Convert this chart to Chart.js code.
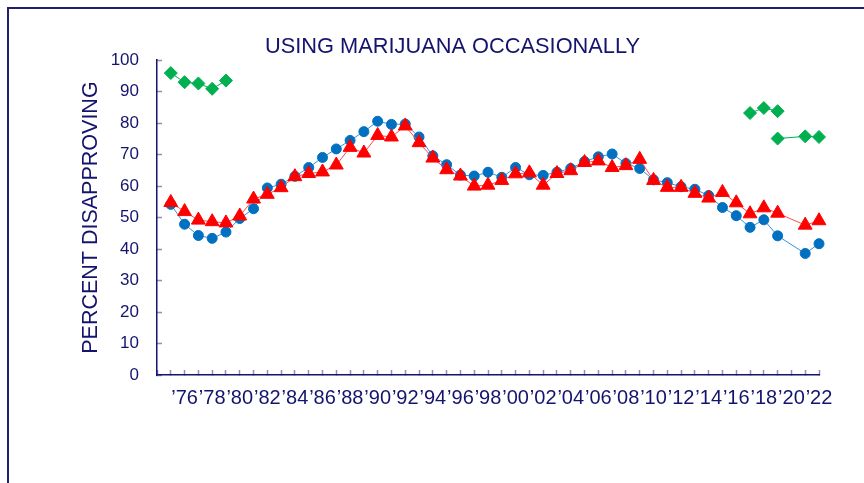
<!DOCTYPE html>
<html>
<head>
<meta charset="utf-8">
<script src="https://cdn.jsdelivr.net/npm/chart.js@4.4.1/dist/chart.umd.min.js"></script>
<style>
  html, body { margin: 0; padding: 0; background: #fff; overflow: hidden; }
  body { width: 864px; height: 483px; position: relative; }
  #frame { position: absolute; left: 7px; top: 7px; width: 1000px; height: 500px;
           border-left: 2px solid #202070; border-top: 2px solid #202070; }
  #wrap { position: absolute; left: 0; top: 0; width: 887px; height: 474px; }
</style>
</head>
<body>
<div id="frame"><div id="wrap"><canvas id="myChart"></canvas></div></div>
<script>
const years = [1975, 1976, 1977, 1978, 1979, 1980, 1981, 1982, 1983, 1984, 1985, 1986,
  1987, 1988, 1989, 1990, 1991, 1992, 1993, 1994, 1995, 1996, 1997, 1998, 1999, 2000,
  2001, 2002, 2003, 2004, 2005, 2006, 2007, 2008, 2009, 2010, 2011, 2012, 2013, 2014,
  2015, 2016, 2017, 2018, 2019, 2020, 2021, 2022];

// blue circles
const blueVals = [54.2, 47.9, 44.3, 43.4, 45.4, 49.7, 52.8, 59.4, 60.6, 63.1, 65.9, 69.1,
  71.8, 74.5, 77.3, 80.6, 79.6, 79.7, 75.6, 69.6, 66.8, 63.5, 63.2, 64.4, 62.8, 65.9,
  63.6, 63.4, 64.4, 65.6, 67.8, 69.3, 70.2, 67.2, 65.6, 62.0, 61.1, 59.8, 59.0, 57.0,
  53.2, 50.6, 46.9, 49.3, 44.2, null, 38.6, 41.7];

// red triangles
const redVals = [54.8, 51.9, 49.2, 48.7, 48.3, 50.5, 55.9, 57.4, 59.5, 63.0, 64.0, 64.5,
  66.7, 72.3, 70.5, 76.1, 75.6, 79.1, 73.8, 68.9, 65.2, 63.2, 60.0, 60.3, 61.8, 63.9,
  64.2, 60.3, 64.0, 64.9, 67.5, 68.0, 65.9, 66.5, 68.5, 61.8, 59.6, 59.6, 57.7, 56.2,
  58.0, 54.7, 51.2, 53.1, 51.4, null, 47.6, 49.0];

// green diamonds
const greenEarlyYears = [1975, 1976, 1977, 1978, 1979];
const greenEarlyVals = [95.9, 93.0, 92.6, 90.9, 93.5];
const greenMidYears = [2017, 2018, 2019];
const greenMidVals = [83.2, 84.8, 83.8];
const greenLateYears = [2019, 2021, 2022];
const greenLateVals = [75.1, 75.8, 75.6];

const labelYears = [1976, 1978, 1980, 1982, 1984, 1986, 1988, 1990, 1992, 1994, 1996, 1998,
  2000, 2002, 2004, 2006, 2008, 2010, 2012, 2014, 2016, 2018, 2020, 2022];
const labelText = ["\u201976", "\u201978", "\u201980", "\u201982", "\u201984", "\u201986",
  "\u201988", "\u201990", "\u201992", "\u201994", "\u201996", "\u201998", "\u201900",
  "\u201902", "\u201904", "\u201906", "\u201908", "\u201910", "\u201912", "\u201914",
  "\u201916", "\u201918", "\u201920", "\u201922"];

const navy = "#14146e";
const fontFamily = "'Liberation Sans', Arial, sans-serif";

const pts = (xs, ys) => xs.map((x, i) => ({ x: x, y: ys[i] }));

const greenStyle = {
  borderColor: "#00b050",
  backgroundColor: "#00b050",
  pointBorderColor: "#00b050",
  pointStyle: "rectRot",
  pointRadius: 6.5,
  borderWidth: 1,
  clip: false,
};

const config = {
  type: "line",
  data: {
    datasets: [
      { label: "green early", data: pts(greenEarlyYears, greenEarlyVals), ...greenStyle },
      { label: "green mid", data: pts(greenMidYears, greenMidVals), ...greenStyle },
      { label: "green late", data: pts(greenLateYears, greenLateVals), ...greenStyle },
      {
        label: "red",
        data: pts(years, redVals),
        borderColor: "#ff4a4a",
        backgroundColor: "#ff0000",
        pointBorderColor: "#ff0000",
        pointStyle: "triangle",
        pointRadius: 8,
        borderWidth: 1,
        spanGaps: true,
        clip: false,
      },
      {
        label: "blue",
        data: pts(years, blueVals),
        borderColor: "#3a8fdc",
        backgroundColor: "#0070c0",
        pointBorderColor: "#0070c0",
        pointStyle: "circle",
        pointRadius: 5,
        borderWidth: 1,
        spanGaps: true,
        clip: false,
      },
    ],
  },
  options: {
    responsive: true,
    maintainAspectRatio: false,
    animation: false,
    events: [],
    layout: { padding: 0 },
    elements: { line: { tension: 0 } },
    plugins: {
      legend: { display: false },
      tooltip: { enabled: false },
      title: {
        display: true,
        text: "USING MARIJUANA OCCASIONALLY",
        color: navy,
        font: { family: fontFamily, size: 21.8, weight: "normal" },
        padding: { top: 25, bottom: 0 },
      },
    },
    scales: {
      x: {
        type: "linear",
        min: 1974,
        max: 2022,
        afterFit: (s) => { s.height = 108; },
        grid: { drawOnChartArea: false, tickLength: -5, tickColor: "#8f8fbf", tickWidth: 1.5 },
        border: { color: navy, width: 1.5 },
        ticks: {
          stepSize: 1,
          autoSkip: false,
          maxRotation: 0,
          padding: 16,
          color: navy,
          font: { family: fontFamily, size: 20 },
          callback: (v) => {
            const i = labelYears.indexOf(v);
            return i >= 0 ? labelText[i] : "";
          },
        },
      },
      y: {
        min: 0,
        max: 100,
        afterFit: (s) => { s.width = 148; },
        grid: { drawOnChartArea: false, tickLength: -5, tickColor: "#8f8fbf", tickWidth: 1.5 },
        border: { color: navy, width: 1.5 },
        ticks: {
          stepSize: 10,
          padding: 23,
          color: navy,
          font: { family: fontFamily, size: 17 },
        },
        title: {
          display: true,
          text: "PERCENT DISAPPROVING",
          color: navy,
          font: { family: fontFamily, size: 21.5 },
          padding: { top: 69, bottom: 0 },
        },
      },
      // empty right-hand spacer so the title centres over the whole frame
      spacer: {
        type: "linear",
        position: "right",
        afterFit: (s) => { s.width = 77; },
        grid: { display: false },
        border: { display: false },
        ticks: { display: false },
      },
    },
  },
};

new Chart(document.getElementById("myChart").getContext("2d"), config);
</script>
</body>
</html>
